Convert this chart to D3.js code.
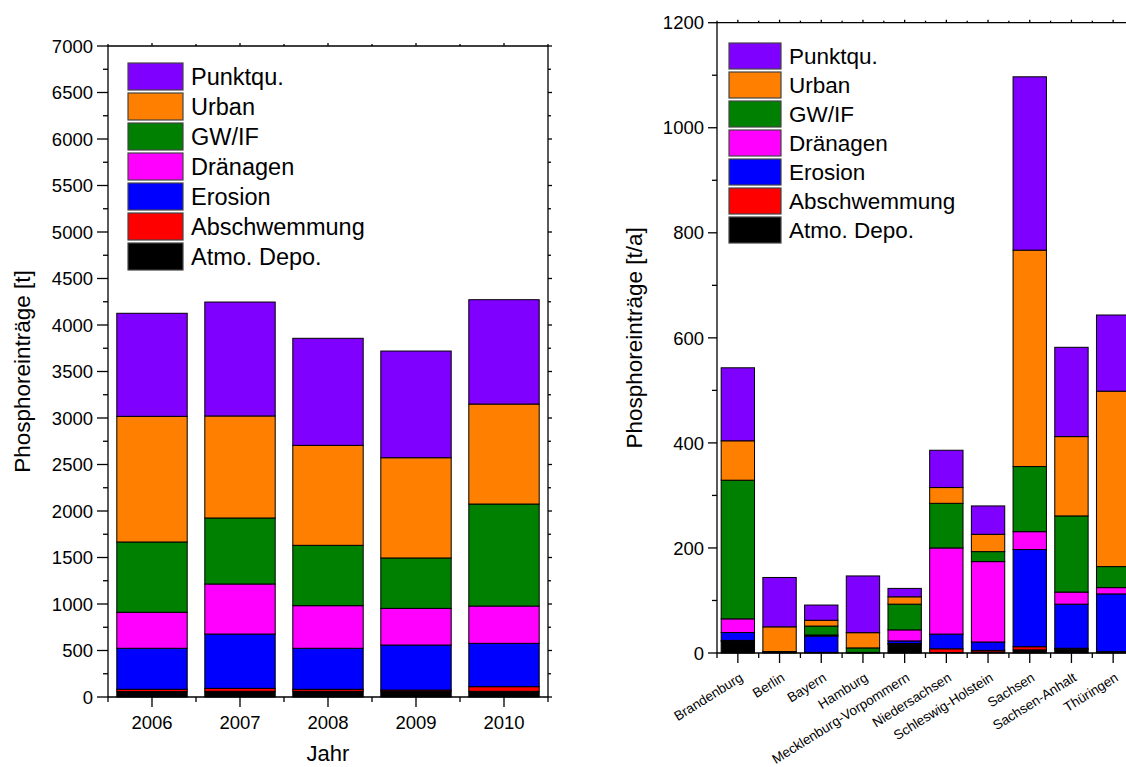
<!DOCTYPE html>
<html>
<head>
<meta charset="utf-8">
<script src="https://cdn.jsdelivr.net/npm/d3@7"></script>
<style>
  html, body { margin: 0; padding: 0; background: #fff; }
  svg { display: block; font-family: "Liberation Sans", Arial, sans-serif; }
</style>
</head>
<body>
<svg id="chart" width="1126" height="767"></svg>
<script>
// Phosphor input sources (stacked bottom to top)
const seriesNames = ["Atmo. Depo.", "Abschwemmung", "Erosion", "Dränagen", "GW/IF", "Urban", "Punktqu."];
const seriesColors = ["#000000", "#ff0000", "#0000ff", "#ff00ff", "#008000", "#ff8000", "#8000ff"];

// Yearly totals [t]
const years = ["2006", "2007", "2008", "2009", "2010"];
const atmoYear    = [58, 61, 61, 61, 61];
const abschYear   = [25, 32, 22, 14, 50];
const erosionYear = [441, 584, 441, 484, 466];
const drainYear   = [387, 538, 458, 394, 401];
const gwYear      = [756, 710, 649, 542, 1097];
const urbanYear   = [1351, 1097, 1075, 1078, 1075];
const punktYear   = [1108, 1225, 1151, 1147, 1122];
const yearTicks   = [0, 500, 1000, 1500, 2000, 2500, 3000, 3500, 4000, 4500, 5000, 5500, 6000, 6500, 7000];

// Federal states [t/a]
const states = ["Brandenburg", "Berlin", "Bayern", "Hamburg", "Mecklenburg-Vorpommern",
  "Niedersachsen", "Schleswig-Holstein", "Sachsen", "Sachsen-Anhalt", "Thüringen"];
const atmoLand    = [22, 1, 1, 0.5, 17, 1, 2, 6, 7, 2];
const abschLand   = [2, 0.3, 0.3, 0.2, 1, 7, 3, 6, 2, 0.5];
const erosionLand = [15, 1, 31, 0.5, 5, 28, 16, 185, 84, 110];
const drainLand   = [26, 0, 2, 0, 21, 164, 153, 34, 23, 12];
const gwLand      = [264, 0.5, 17, 8.5, 49, 85, 19, 124, 145, 40];
const urbanLand   = [75, 47, 11, 29, 14, 30, 33, 412, 151, 334];
const punktLand   = [139, 94, 29, 108, 16, 71, 54, 330, 170, 145];
const landTicks   = [0, 200, 400, 600, 800, 1000, 1200];

const svg = d3.select("#chart");

function buildRows(cats, cols) {
  return cats.map((c, i) => {
    const row = { cat: c };
    seriesNames.forEach((s, k) => { row[s] = cols[k][i]; });
    return row;
  });
}

function drawPanel(cfg) {
  const g = svg.append("g");
  const x = d3.scaleBand().domain(cfg.cats).range([cfg.x0, cfg.x1]).paddingInner(0.2).paddingOuter(0.1);
  const y = d3.scaleLinear().domain([0, cfg.yMax]).range([cfg.y0, cfg.y1]);
  const rows = buildRows(cfg.cats, cfg.cols);
  const stack = d3.stack().keys(seriesNames)(rows);
  const color = d3.scaleOrdinal().domain(seriesNames).range(seriesColors);

  // bars
  g.selectAll("g.layer").data(stack).join("g")
    .attr("class", "layer")
    .attr("fill", d => color(d.key))
    .selectAll("rect").data(d => d).join("rect")
    .attr("x", d => x(d.data.cat))
    .attr("width", x.bandwidth())
    .attr("y", d => y(d[1]))
    .attr("height", d => Math.max(0, y(d[0]) - y(d[1])))
    .attr("stroke", "#000").attr("stroke-width", 1);

  const step = x.step();
  const ax = g.append("g").attr("stroke", "#000").attr("stroke-width", 1.3);
  // frame
  ax.append("line").attr("x1", cfg.x0).attr("x2", cfg.x0).attr("y1", cfg.y0).attr("y2", cfg.y1);
  ax.append("line").attr("x1", cfg.x0).attr("x2", cfg.x1).attr("y1", cfg.y0).attr("y2", cfg.y0);
  ax.append("line").attr("x1", cfg.x0).attr("x2", cfg.x1).attr("y1", cfg.y1).attr("y2", cfg.y1);
  ax.append("line").attr("x1", cfg.x1).attr("x2", cfg.x1).attr("y1", cfg.y0).attr("y2", cfg.y1);

  // y ticks: major and minor
  const majorStep = cfg.ticks[1] - cfg.ticks[0];
  cfg.ticks.forEach((t, i) => {
    ax.append("line").attr("x1", cfg.x0 - cfg.majorLen).attr("x2", cfg.x0).attr("y1", y(t)).attr("y2", y(t));
    ax.append("line").attr("x1", cfg.x1).attr("x2", cfg.x1 + 4).attr("y1", y(t)).attr("y2", y(t));
    if (i < cfg.ticks.length - 1) {
      const m = t + majorStep / 2;
      ax.append("line").attr("x1", cfg.x0 - 5).attr("x2", cfg.x0).attr("y1", y(m)).attr("y2", y(m));
      ax.append("line").attr("x1", cfg.x1).attr("x2", cfg.x1 + 3).attr("y1", y(m)).attr("y2", y(m));
    }
  });
  g.append("g").selectAll("text").data(cfg.ticks).join("text")
    .attr("x", cfg.x0 - cfg.majorLen - 4).attr("y", d => y(d))
    .attr("dy", "0.36em").attr("text-anchor", "end")
    .attr("font-size", cfg.tickFont).text(d => d);

  // x ticks
  cfg.cats.forEach((c, i) => {
    const cx = x(c) + x.bandwidth() / 2;
    ax.append("line").attr("x1", cx).attr("x2", cx).attr("y1", cfg.y0).attr("y2", cfg.y0 + 10);
    ax.append("line").attr("x1", cx).attr("x2", cx).attr("y1", cfg.y1).attr("y2", cfg.y1 - 3);
  });
  d3.range(cfg.cats.length + 1).forEach(i => {
    const bx = cfg.x0 + i * step;
    ax.append("line").attr("x1", bx).attr("x2", bx).attr("y1", cfg.y0).attr("y2", cfg.y0 + 5);
    ax.append("line").attr("x1", bx).attr("x2", bx).attr("y1", cfg.y1).attr("y2", cfg.y1 - 2);
  });

  // legend (top to bottom: Punktqu. ... Atmo. Depo.)
  const leg = g.append("g");
  const order = seriesNames.slice().reverse();
  order.forEach((s, i) => {
    const ly = cfg.legY + i * cfg.legStep;
    leg.append("rect").attr("x", cfg.legX).attr("y", ly)
      .attr("width", cfg.legW).attr("height", cfg.legH)
      .attr("fill", color(s)).attr("stroke", "#444").attr("stroke-width", 1.2);
    leg.append("text").attr("x", cfg.legX + cfg.legW + 8).attr("y", ly + cfg.legH / 2)
      .attr("dy", "0.36em").attr("font-size", cfg.legFont).text(s);
  });

  // y axis title
  g.append("text").attr("transform", `translate(${cfg.titleX},${(cfg.y0 + cfg.y1) / 2}) rotate(-90)`)
    .attr("text-anchor", "middle").attr("font-size", 22.5).text(cfg.yTitle);

  return { x, y, g };
}

// Left panel: yearly totals
const left = drawPanel({
  cats: years, cols: [atmoYear, abschYear, erosionYear, drainYear, gwYear, urbanYear, punktYear],
  x0: 108, x1: 548, y0: 697, y1: 46, yMax: 7000, ticks: yearTicks, majorLen: 11, tickFont: 18.5,
  legX: 128, legY: 63, legStep: 30, legW: 55, legH: 27, legFont: 23.5,
  yTitle: "Phosphoreinträge [t]", titleX: 30
});
left.g.append("g").selectAll("text").data(years).join("text")
  .attr("x", d => left.x(d) + left.x.bandwidth() / 2).attr("y", 729)
  .attr("text-anchor", "middle").attr("font-size", 18.5).text(d => d);
left.g.append("text").attr("x", 328).attr("y", 761).attr("text-anchor", "middle")
  .attr("font-size", 22).text("Jahr");

// Right panel: federal states
const right = drawPanel({
  cats: states, cols: [atmoLand, abschLand, erosionLand, drainLand, gwLand, urbanLand, punktLand],
  x0: 717, x1: 1134, y0: 653, y1: 22.7, yMax: 1200, ticks: landTicks, majorLen: 9, tickFont: 18.5,
  legX: 729, legY: 43, legStep: 29, legW: 52, legH: 26, legFont: 22.5,
  yTitle: "Phosphoreinträge [t/a]", titleX: 642
});
right.g.append("g").selectAll("text").data(states).join("text")
  .attr("transform", d => `translate(${right.x(d) + right.x.bandwidth() / 2 + 6},${680}) rotate(-32)`)
  .attr("text-anchor", "end").attr("font-size", 13.5).text(d => d);
</script>
</body>
</html>
